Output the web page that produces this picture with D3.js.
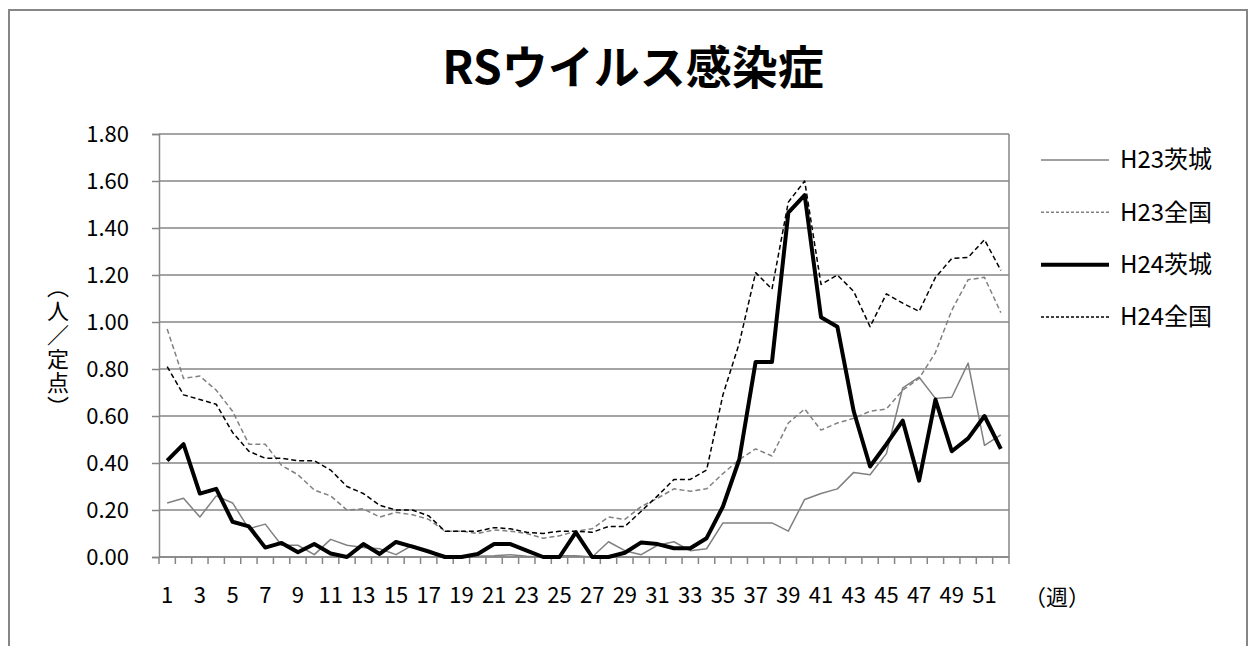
<!DOCTYPE html>
<html>
<head>
<meta charset="utf-8">
<script src="https://cdn.jsdelivr.net/npm/d3@7"></script>
<style>
  body { margin: 0; background: #fff; }
  text { font-family: "Noto Sans CJK JP", "Noto Sans", sans-serif; fill: #000; }
</style>
</head>
<body>
<div id="chart"></div>
<script>
// weeks 1..52
const weeks = d3.range(1, 53);
const yTicks = [0, 0.2, 0.4, 0.6, 0.8, 1.0, 1.2, 1.4, 1.6, 1.8];
const xLabels = weeks.filter((w) => w % 2 === 1);
const seriesNames = ["H23茨城", "H23全国", "H24茨城", "H24全国"];

const h23Ibaraki = [
  0.23, 0.25, 0.17, 0.26, 0.23, 0.12, 0.14, 0.05, 0.05, 0.01,
  0.075, 0.05, 0.04, 0.035, 0.01, 0.05, 0.03, 0.0, 0.0, 0.003,
  0.005, 0.01, 0.003, 0.0, 0.005, 0.005, 0.0, 0.065, 0.027, 0.01,
  0.05, 0.065, 0.027, 0.035, 0.145, 0.145, 0.145, 0.145, 0.11, 0.245,
  0.27, 0.29, 0.36, 0.35, 0.44, 0.72, 0.765, 0.675, 0.68, 0.825,
  0.475, 0.52,
];
const h23Zenkoku = [
  0.97, 0.76, 0.77, 0.71, 0.62, 0.48, 0.48, 0.39, 0.35, 0.285,
  0.26, 0.2, 0.205, 0.17, 0.19, 0.18, 0.16, 0.11, 0.11, 0.1,
  0.115, 0.11, 0.1, 0.08, 0.09, 0.11, 0.12, 0.17, 0.16, 0.215,
  0.25, 0.29, 0.28, 0.29, 0.355, 0.415, 0.46, 0.43, 0.57, 0.63,
  0.54, 0.57, 0.59, 0.62, 0.63, 0.71, 0.76, 0.87, 1.05, 1.18,
  1.19, 1.04,
];
const h24Ibaraki = [
  0.41, 0.48, 0.27, 0.29, 0.15, 0.13, 0.04, 0.06, 0.02, 0.055,
  0.015, 0.0, 0.055, 0.013, 0.064, 0.044, 0.023, 0.0, 0.0, 0.013,
  0.055, 0.055, 0.027, 0.0, 0.0, 0.105, 0.0, 0.0, 0.018, 0.062,
  0.055, 0.037, 0.037, 0.08, 0.215, 0.415, 0.83, 0.83, 1.465, 1.54,
  1.02, 0.98, 0.62, 0.385, 0.48, 0.58, 0.325, 0.67, 0.45, 0.505,
  0.6, 0.46,
];
const h24Zenkoku = [
  0.81, 0.69, 0.67, 0.65, 0.53, 0.45, 0.42, 0.42, 0.41, 0.41,
  0.37, 0.3, 0.27, 0.22, 0.2, 0.2, 0.175, 0.11, 0.11, 0.11,
  0.125, 0.12, 0.105, 0.1, 0.11, 0.11, 0.105, 0.13, 0.13, 0.195,
  0.26, 0.33, 0.33, 0.37, 0.69, 0.91, 1.21, 1.14, 1.51, 1.6,
  1.16, 1.2, 1.13, 0.98, 1.12, 1.08, 1.045, 1.19, 1.27, 1.275,
  1.35, 1.22,
];

const W = 1249, H = 646;
const plot = { left: 159, right: 1009, top: 134, bottom: 557 };
const gridColor = "#868686";

const svg = d3.select("#chart").append("svg")
  .attr("width", W).attr("height", H);

// outer frame
svg.append("rect")
  .attr("x", 9).attr("y", 10)
  .attr("width", 1238).attr("height", 700)
  .attr("fill", "#fff")
  .attr("stroke", gridColor).attr("stroke-width", 2);

svg.append("text")
  .attr("x", 633).attr("y", 84)
  .attr("text-anchor", "middle")
  .attr("font-size", 46).attr("font-weight", "bold")
  .text("RSウイルス感染症");

const x = d3.scaleBand().domain(weeks).range([plot.left, plot.right]).padding(0);
const y = d3.scaleLinear().domain([0, 1.8]).range([plot.bottom, plot.top]);
const cx = (w) => x(w) + x.bandwidth() / 2;

// horizontal grid
svg.append("g")
  .selectAll("line")
  .data(yTicks)
  .enter()
  .append("line")
  .attr("x1", plot.left).attr("x2", plot.right)
  .attr("y1", (d) => y(d)).attr("y2", (d) => y(d))
  .attr("stroke", gridColor).attr("stroke-width", 1.5);

// right edge of plot area
svg.append("line")
  .attr("x1", plot.right).attr("x2", plot.right)
  .attr("y1", plot.top).attr("y2", plot.bottom)
  .attr("stroke", gridColor).attr("stroke-width", 1.5);

// y axis
const yAxis = d3.axisLeft(y).tickValues(yTicks).tickFormat(d3.format(".2f"))
  .tickSize(7).tickPadding(23);
const gy = svg.append("g").attr("transform", `translate(${plot.left},0)`).call(yAxis);
gy.select(".domain").attr("stroke", gridColor).attr("stroke-width", 1.5);
gy.selectAll(".tick line").attr("stroke", gridColor).attr("stroke-width", 1.5);
gy.selectAll(".tick text").attr("font-size", 22).attr("font-family", null);

// x axis: labels on odd weeks, ticks at category boundaries
const xAxis = d3.axisBottom(x).tickValues(xLabels).tickSize(0).tickPadding(30);
const gx = svg.append("g").attr("transform", `translate(0,${plot.bottom})`).call(xAxis);
gx.select(".domain").remove();
gx.selectAll(".tick text").attr("font-size", 22).attr("font-family", null);

svg.append("line")
  .attr("x1", plot.left).attr("x2", plot.right)
  .attr("y1", plot.bottom).attr("y2", plot.bottom)
  .attr("stroke", gridColor).attr("stroke-width", 1.5);

const bounds = weeks.map((w) => x(w)).concat([plot.right]);
svg.append("g")
  .selectAll("line")
  .data(bounds)
  .enter()
  .append("line")
  .attr("x1", (d) => d).attr("x2", (d) => d)
  .attr("y1", plot.bottom).attr("y2", plot.bottom + 7)
  .attr("stroke", gridColor).attr("stroke-width", 1.5);

// axis titles
svg.append("text")
  .attr("x", 1057).attr("y", 597)
  .attr("dy", "0.35em")
  .attr("text-anchor", "middle")
  .attr("font-size", 22)
  .text("（週）");

svg.append("text")
  .attr("x", 58).attr("y", 348)
  .attr("text-anchor", "middle")
  .style("writing-mode", "vertical-rl")
  .attr("font-size", 22)
  .attr("letter-spacing", 2)
  .text("（人／定点）");

// series
const series = [
  { name: seriesNames[0], values: h23Ibaraki, color: "#808080", width: 1.5, dash: null },
  { name: seriesNames[1], values: h23Zenkoku, color: "#808080", width: 1.5, dash: "5,3" },
  { name: seriesNames[2], values: h24Ibaraki, color: "#000", width: 4, dash: null },
  { name: seriesNames[3], values: h24Zenkoku, color: "#000", width: 1.5, dash: "5,3" },
];

const line = d3.line()
  .x((d, i) => cx(weeks[i]))
  .y((d) => y(d));

svg.append("g")
  .selectAll("path")
  .data(series)
  .enter()
  .append("path")
  .attr("d", (d) => line(d.values))
  .attr("fill", "none")
  .attr("stroke", (d) => d.color)
  .attr("stroke-width", (d) => d.width)
  .attr("stroke-dasharray", (d) => d.dash)
  .attr("stroke-linejoin", "round");

// legend
const legendY = d3.scalePoint().domain(seriesNames).range([160, 317]);
const lg = svg.append("g")
  .selectAll("g")
  .data(series)
  .enter()
  .append("g")
  .attr("transform", (d) => `translate(0,${legendY(d.name)})`);

lg.append("line")
  .attr("x1", 1041).attr("x2", 1109)
  .attr("stroke", (d) => d.color)
  .attr("stroke-width", (d) => d.width)
  .attr("stroke-dasharray", (d) => (d.dash ? "3,2" : null));

lg.append("text")
  .attr("x", 1120).attr("y", 0)
  .attr("dy", "0.35em")
  .attr("font-size", 24)
  .text((d) => d.name);
</script>
</body>
</html>
